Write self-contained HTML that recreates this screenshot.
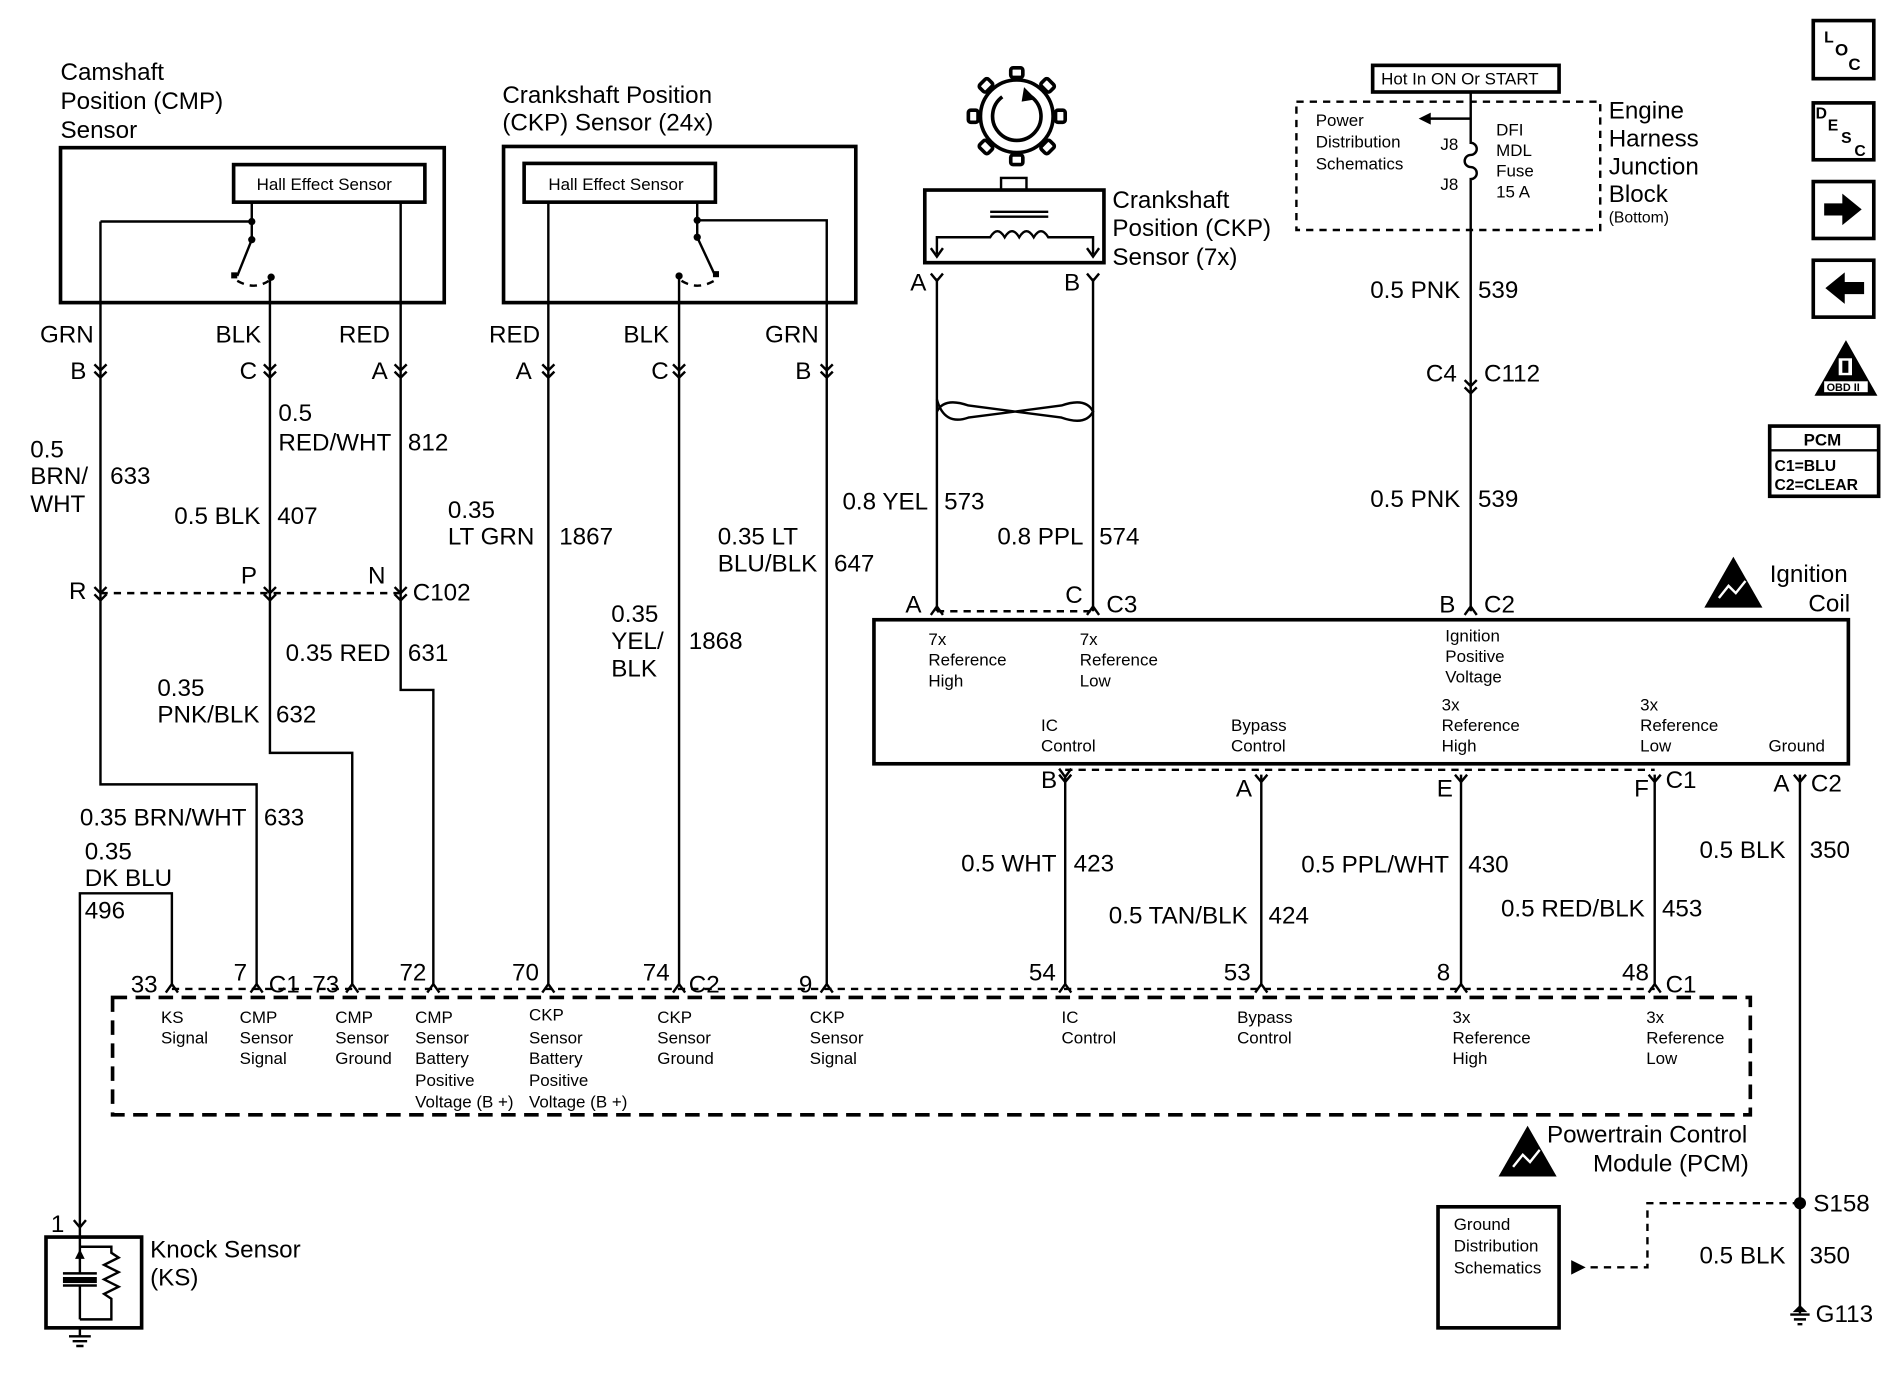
<!DOCTYPE html>
<html><head><meta charset="utf-8"><style>
html,body{margin:0;padding:0;background:#fff;}
svg{display:block;}
text{font-family:"Liberation Sans",Arial,sans-serif;fill:#000;}
.t{font-size:20px;}
.s{font-size:14px;}
.w{stroke:#000;stroke-width:2;fill:none;}
.b{stroke:#000;stroke-width:3;fill:none;}
.d{stroke:#000;stroke-width:2;fill:none;stroke-dasharray:6,5;}
.db{stroke:#000;stroke-width:3;fill:none;stroke-dasharray:12,7;}
</style></head><body>
<svg width="1898" height="1392" viewBox="0 0 1568 1150" preserveAspectRatio="none" xmlns="http://www.w3.org/2000/svg">
<defs>
<g id="cc"><path d="M-5,-9 L0,-4 L5,-9 M-5,-3 L0,2 L5,-3" stroke="#000" stroke-width="2" fill="none"/></g>
<g id="up"><path d="M-5,5 L0,-2 L5,5" stroke="#000" stroke-width="2" fill="none"/></g>
</defs>

<!-- CMP sensor -->
<text class="t" x="50" y="66">Camshaft</text>
<text class="t" x="50" y="90">Position (CMP)</text>
<text class="t" x="50" y="114">Sensor</text>
<rect x="50" y="122" width="317" height="128" class="b"/>
<rect x="193" y="136" width="158" height="31" class="b"/>
<text class="s" x="212" y="157">Hall Effect Sensor</text>
<path class="w" d="M208,167 V183 M83,183 H208 V198 L196,228"/>
<circle cx="208" cy="183" r="3"/><circle cx="208" cy="198" r="3"/>
<rect x="191" y="225" width="5" height="5"/><circle cx="224" cy="229" r="3"/>
<path class="d" d="M196,232 Q210,240 222,232" stroke-dasharray="3,3"/>
<path class="w" d="M83,183 V490 M223,229 V490 M331,167 V490"/>
<text class="t" x="33" y="283">GRN</text><text class="t" x="178" y="283">BLK</text><text class="t" x="280" y="283">RED</text>
<text class="t" x="58" y="313">B</text><text class="t" x="198" y="313">C</text><text class="t" x="307" y="313">A</text>
<use href="#cc" x="83" y="310"/><use href="#cc" x="223" y="310"/><use href="#cc" x="331" y="310"/>
<text class="t" x="25" y="378">0.5</text><text class="t" x="25" y="400">BRN/</text><text class="t" x="25" y="423">WHT</text><text class="t" x="91" y="400">633</text>
<text class="t" x="230" y="348">0.5</text><text class="t" x="230" y="372">RED/WHT</text><text class="t" x="337" y="372">812</text>
<text class="t" x="144" y="433">0.5 BLK</text><text class="t" x="229" y="433">407</text>
<path class="d" d="M83,490 H331"/>
<use href="#cc" x="83" y="494"/><use href="#cc" x="223" y="494"/><use href="#cc" x="331" y="494"/>
<text class="t" x="57" y="495">R</text><text class="t" x="199" y="482">P</text><text class="t" x="304" y="482">N</text><text class="t" x="341" y="496">C102</text>
<path class="w" d="M83,490 V648 H212 V815 M223,490 V622 H291 V815 M331,490 V570 H358 V815"/>
<text class="t" x="236" y="546">0.35 RED</text><text class="t" x="337" y="546">631</text>
<text class="t" x="130" y="575">0.35</text><text class="t" x="130" y="597">PNK/BLK</text><text class="t" x="228" y="597">632</text>
<text class="t" x="66" y="682">0.35 BRN/WHT</text><text class="t" x="218" y="682">633</text>
<text class="t" x="70" y="710">0.35</text><text class="t" x="70" y="732">DK BLU</text><text class="t" x="70" y="759">496</text>
<path class="w" d="M66,1014 V738 H142 V815"/>

<!-- CKP 24x -->
<text class="t" x="415" y="85">Crankshaft Position</text>
<text class="t" x="415" y="108">(CKP) Sensor (24x)</text>
<rect x="416" y="121" width="291" height="129" class="b"/>
<rect x="433" y="135" width="158" height="32" class="b"/>
<text class="s" x="453" y="157">Hall Effect Sensor</text>
<path class="w" d="M576,167 V182 H683 V815 M576,182 V196 L590,226"/>
<circle cx="576" cy="182" r="3"/><circle cx="576" cy="196" r="3"/>
<rect x="589" y="224" width="5" height="5"/><circle cx="561" cy="228" r="3"/>
<path class="d" d="M563,232 Q576,240 590,232" stroke-dasharray="3,3"/>
<path class="w" d="M453,167 V815 M561,228 V815"/>
<text class="t" x="404" y="283">RED</text><text class="t" x="515" y="283">BLK</text><text class="t" x="632" y="283">GRN</text>
<text class="t" x="426" y="313">A</text><text class="t" x="538" y="313">C</text><text class="t" x="657" y="313">B</text>
<use href="#cc" x="453" y="310"/><use href="#cc" x="561" y="310"/><use href="#cc" x="683" y="310"/>
<text class="t" x="370" y="428">0.35</text><text class="t" x="370" y="450">LT GRN</text><text class="t" x="462" y="450">1867</text>
<text class="t" x="505" y="514">0.35</text><text class="t" x="505" y="536">YEL/</text><text class="t" x="505" y="559">BLK</text><text class="t" x="569" y="536">1868</text>
<text class="t" x="593" y="450">0.35 LT</text><text class="t" x="593" y="472">BLU/BLK</text><text class="t" x="689" y="472">647</text>

<!-- CKP 7x -->
<g transform="translate(840,96)">
<circle r="30" class="b"/>
<path class="b" d="M12,-16 A20,20 0 1 1 -12,-16" />
<path d="M6,-24 L16,-14 L4,-12 Z"/>
<g class="b">
<rect x="-5" y="-40" width="10" height="8" rx="2"/><rect x="-5" y="32" width="10" height="8" rx="2"/>
<rect x="-40" y="-5" width="8" height="10" rx="2"/><rect x="32" y="-5" width="8" height="10" rx="2"/>
<rect x="-5" y="-40" width="10" height="8" rx="2" transform="rotate(45)"/><rect x="-5" y="-40" width="10" height="8" rx="2" transform="rotate(-45)"/>
<rect x="-5" y="-40" width="10" height="8" rx="2" transform="rotate(135)"/><rect x="-5" y="-40" width="10" height="8" rx="2" transform="rotate(-135)"/>
</g></g>
<rect x="827" y="147" width="21" height="10" class="w"/>
<rect x="764" y="157" width="148" height="60" class="b"/>
<path class="w" d="M818,175 H866 M818,179 H866 M774,210 V196 H818 q6,-10 12,0 q6,-10 12,0 q6,-10 12,0 q6,-10 12,0 H903 V210"/>
<path class="w" d="M769,205 L774,212 L779,205 M898,205 L903,212 L908,205"/>
<text class="t" x="919" y="172">Crankshaft</text><text class="t" x="919" y="195">Position (CKP)</text><text class="t" x="919" y="219">Sensor (7x)</text>
<text class="t" x="752" y="240">A</text><text class="t" x="879" y="240">B</text>
<path class="w" d="M769,226 L774,232 L779,226 M898,226 L903,232 L908,226"/>
<path class="w" d="M774,230 V505 M903,230 V505"/>
<path class="w" d="M774,330 Q780,352 800,345 L877,335 Q897,328 903,340 Q897,352 877,345 L800,335 Q780,328 774,340"/>
<ellipse cx="838" cy="340" rx="70" ry="10" class="w" fill="none" opacity="0"/>
<text class="t" x="696" y="421">0.8 YEL</text><text class="t" x="780" y="421">573</text>
<text class="t" x="824" y="450">0.8 PPL</text><text class="t" x="908" y="450">574</text>
<path class="d" d="M774,505 H903"/>
<use href="#up" x="774" y="503"/><use href="#up" x="903" y="503"/>
<text class="t" x="748" y="506">A</text><text class="t" x="880" y="498">C</text><text class="t" x="914" y="506">C3</text>

<!-- Ignition coil -->
<rect x="722" y="512" width="805" height="119" class="b"/>
<text class="s" x="767" y="533">7x</text><text class="s" x="767" y="550">Reference</text><text class="s" x="767" y="567">High</text>
<text class="s" x="892" y="533">7x</text><text class="s" x="892" y="550">Reference</text><text class="s" x="892" y="567">Low</text>
<text class="s" x="1194" y="530">Ignition</text><text class="s" x="1194" y="547">Positive</text><text class="s" x="1194" y="564">Voltage</text>
<text class="s" x="860" y="604">IC</text><text class="s" x="860" y="621">Control</text>
<text class="s" x="1017" y="604">Bypass</text><text class="s" x="1017" y="621">Control</text>
<text class="s" x="1191" y="587">3x</text><text class="s" x="1191" y="604">Reference</text><text class="s" x="1191" y="621">High</text>
<text class="s" x="1355" y="587">3x</text><text class="s" x="1355" y="604">Reference</text><text class="s" x="1355" y="621">Low</text>
<text class="s" x="1461" y="621">Ground</text>
<path d="M1432,460 L1408,502 L1456,502 Z"/><path d="M1420,494 l8,-10 l6,6 l8,-10" stroke="#fff" stroke-width="2" fill="none"/>
<text class="t" x="1462" y="481">Ignition</text><text class="t" x="1494" y="505">Coil</text>
<path class="d" d="M880,636 H1367"/>
<use href="#up" x="880" y="640" transform="rotate(180 880 640)"/>
<path class="w" d="M875,640 L880,646 L885,640 M1037,640 L1042,646 L1047,640 M1202,640 L1207,646 L1212,640 M1362,640 L1367,646 L1372,640 M1482,640 L1487,646 L1492,640"/>
<path class="w" d="M880,640 V815 M1042,640 V815 M1207,640 V815 M1367,640 V815 M1487,640 V1085"/>
<text class="t" x="860" y="651">B</text><text class="t" x="1021" y="658">A</text><text class="t" x="1187" y="658">E</text><text class="t" x="1350" y="658">F</text><text class="t" x="1376" y="651">C1</text>
<text class="t" x="1465" y="654">A</text><text class="t" x="1496" y="654">C2</text>
<text class="t" x="794" y="720">0.5 WHT</text><text class="t" x="887" y="720">423</text>
<text class="t" x="916" y="763">0.5 TAN/BLK</text><text class="t" x="1048" y="763">424</text>
<text class="t" x="1075" y="721">0.5 PPL/WHT</text><text class="t" x="1213" y="721">430</text>
<text class="t" x="1240" y="757">0.5 RED/BLK</text><text class="t" x="1373" y="757">453</text>
<text class="t" x="1404" y="709">0.5 BLK</text><text class="t" x="1495" y="709">350</text>

<!-- Top right fuse -->
<rect x="1134" y="54" width="154" height="22" class="b"/>
<text class="s" x="1141" y="70">Hot In ON Or START</text>
<rect x="1071" y="84" width="251" height="106" class="d" stroke-width="2.5"/>
<path class="w" d="M1215,76 V118 a5,5 0 0 1 0,10 a5,5 0 0 0 0,10 a5,5 0 0 1 0,10 V505"/>
<path class="w" d="M1215,98 H1180"/><path d="M1172,98 L1182,93 L1182,103 Z"/>
<text class="s" x="1087" y="104">Power</text><text class="s" x="1087" y="122">Distribution</text><text class="s" x="1087" y="140">Schematics</text>
<text class="s" x="1190" y="124">J8</text><text class="s" x="1190" y="157">J8</text>
<text class="s" x="1236" y="112">DFI</text><text class="s" x="1236" y="129">MDL</text><text class="s" x="1236" y="146">Fuse</text><text class="s" x="1236" y="163">15 A</text>
<text class="t" x="1329" y="98">Engine</text><text class="t" x="1329" y="121">Harness</text><text class="t" x="1329" y="144">Junction</text><text class="t" x="1329" y="167">Block</text>
<text class="s" x="1329" y="184" style="font-size:13px">(Bottom)</text>
<text class="t" x="1132" y="246">0.5 PNK</text><text class="t" x="1221" y="246">539</text>
<use href="#cc" x="1215" y="323"/>
<text class="t" x="1178" y="315">C4</text><text class="t" x="1226" y="315">C112</text>
<text class="t" x="1132" y="419">0.5 PNK</text><text class="t" x="1221" y="419">539</text>
<use href="#up" x="1215" y="503"/>
<text class="t" x="1189" y="506">B</text><text class="t" x="1226" y="506">C2</text>

<!-- Right icons -->
<rect x="1498" y="17" width="50" height="48" class="b"/>
<text x="1507" y="35" style="font-size:13px;font-weight:bold">L</text><text x="1516" y="46" style="font-size:14px;font-weight:bold">O</text><text x="1527" y="58" style="font-size:14px;font-weight:bold">C</text>
<rect x="1498" y="85" width="50" height="47" class="b"/>
<text x="1500" y="98" style="font-size:13px;font-weight:bold">D</text><text x="1510" y="108" style="font-size:13px;font-weight:bold">E</text><text x="1521" y="118" style="font-size:13px;font-weight:bold">S</text><text x="1532" y="129" style="font-size:13px;font-weight:bold">C</text>
<rect x="1498" y="150" width="50" height="47" class="b"/>
<path d="M1507,168 H1522 V160 L1538,173 L1522,186 V178 H1507 Z"/>
<rect x="1498" y="215" width="50" height="47" class="b"/>
<path d="M1540,233 H1524 V225 L1508,238 L1524,251 V243 H1540 Z"/>
<path d="M1525,281 L1499,327 L1551,327 Z"/>
<rect x="1519" y="296" width="11" height="14" fill="#fff"/><rect x="1522" y="298" width="5" height="10"/>
<rect x="1507" y="315" width="36" height="9" fill="#fff"/><text x="1509" y="323" style="font-size:9px;font-weight:bold">OBD II</text>
<rect x="1462" y="352" width="90" height="58" class="b"/><path class="w" d="M1462,372 H1552"/>
<text x="1490" y="368" style="font-size:14px;font-weight:bold">PCM</text>
<text x="1466" y="389" style="font-size:13px;font-weight:bold">C1=BLU</text>
<text x="1466" y="405" style="font-size:13px;font-weight:bold">C2=CLEAR</text>

<!-- PCM -->
<path class="d" d="M142,817 H1367"/>
<g>
<use href="#up" x="142" y="815"/><use href="#up" x="212" y="815"/><use href="#up" x="291" y="815"/><use href="#up" x="358" y="815"/>
<use href="#up" x="453" y="815"/><use href="#up" x="561" y="815"/><use href="#up" x="683" y="815"/><use href="#up" x="880" y="815"/>
<use href="#up" x="1042" y="815"/><use href="#up" x="1207" y="815"/><use href="#up" x="1367" y="815"/>
</g>
<text class="t" x="108" y="820">33</text><text class="t" x="193" y="810">7</text><text class="t" x="222" y="820">C1</text>
<text class="t" x="258" y="820">73</text><text class="t" x="330" y="810">72</text><text class="t" x="423" y="810">70</text>
<text class="t" x="531" y="810">74</text><text class="t" x="569" y="820">C2</text><text class="t" x="660" y="820">9</text>
<text class="t" x="850" y="810">54</text><text class="t" x="1011" y="810">53</text><text class="t" x="1187" y="810">8</text>
<text class="t" x="1340" y="810">48</text><text class="t" x="1376" y="820">C1</text>
<rect x="93" y="824" width="1353" height="97" class="db"/>
<g class="s">
<text class="s" x="133" y="845">KS</text><text class="s" x="133" y="862">Signal</text>
<text class="s" x="198" y="845">CMP</text><text class="s" x="198" y="862">Sensor</text><text class="s" x="198" y="879">Signal</text>
<text class="s" x="277" y="845">CMP</text><text class="s" x="277" y="862">Sensor</text><text class="s" x="277" y="879">Ground</text>
<text class="s" x="343" y="845">CMP</text><text class="s" x="343" y="862">Sensor</text><text class="s" x="343" y="879">Battery</text><text class="s" x="343" y="897">Positive</text><text class="s" x="343" y="915">Voltage (B +)</text>
<text class="s" x="437" y="843">CKP</text><text class="s" x="437" y="862">Sensor</text><text class="s" x="437" y="879">Battery</text><text class="s" x="437" y="897">Positive</text><text class="s" x="437" y="915">Voltage (B +)</text>
<text class="s" x="543" y="845">CKP</text><text class="s" x="543" y="862">Sensor</text><text class="s" x="543" y="879">Ground</text>
<text class="s" x="669" y="845">CKP</text><text class="s" x="669" y="862">Sensor</text><text class="s" x="669" y="879">Signal</text>
<text class="s" x="877" y="845">IC</text><text class="s" x="877" y="862">Control</text>
<text class="s" x="1022" y="845">Bypass</text><text class="s" x="1022" y="862">Control</text>
<text class="s" x="1200" y="845">3x</text><text class="s" x="1200" y="862">Reference</text><text class="s" x="1200" y="879">High</text>
<text class="s" x="1360" y="845">3x</text><text class="s" x="1360" y="862">Reference</text><text class="s" x="1360" y="879">Low</text>
</g>
<path d="M1262,930 L1238,972 L1286,972 Z"/><path d="M1250,964 l8,-10 l6,6 l8,-10" stroke="#fff" stroke-width="2" fill="none"/>
<text class="t" x="1278" y="944">Powertrain Control</text><text class="t" x="1316" y="968">Module (PCM)</text>

<!-- Knock sensor -->
<text class="t" x="42" y="1018">1</text>
<path class="w" d="M61,1008 L66,1014 L71,1008"/>
<rect x="38" y="1022" width="79" height="75" class="b"/>
<path class="w" d="M66,1014 V1030 M52,1052 H80 M52,1062 H80 M66,1062 V1090 M66,1030 H92 V1035 l6,4 l-12,6 l12,6 l-12,6 l12,6 l-12,6 l6,4 V1090 H66 M66,1030 V1052"/>
<path d="M62,1040 L66,1032 L70,1040 Z"/>
<rect x="52" y="1055" width="28" height="5"/>
<path class="w" d="M66,1097 V1104 M57,1104 H75 M60,1108 H72 M63,1112 H69"/>
<text class="t" x="124" y="1039">Knock Sensor</text><text class="t" x="124" y="1062">(KS)</text>

<!-- Ground -->
<circle cx="1487" cy="994" r="5"/>
<text class="t" x="1498" y="1001">S158</text>
<path class="d" d="M1487,994 H1361 V1047 H1310"/>
<path d="M1298,1041 L1310,1047 L1298,1053 Z"/>
<rect x="1188" y="997" width="100" height="100" class="b"/>
<text class="s" x="1201" y="1016">Ground</text><text class="s" x="1201" y="1034">Distribution</text><text class="s" x="1201" y="1052">Schematics</text>
<text class="t" x="1404" y="1044">0.5 BLK</text><text class="t" x="1495" y="1044">350</text>
<path d="M1481,1084 H1493 L1487,1078 Z"/>
<path class="w" d="M1479,1086 H1495 M1482,1090 H1492 M1485,1094 H1489"/>
<text class="t" x="1500" y="1092">G113</text>
</svg>
</body></html>
